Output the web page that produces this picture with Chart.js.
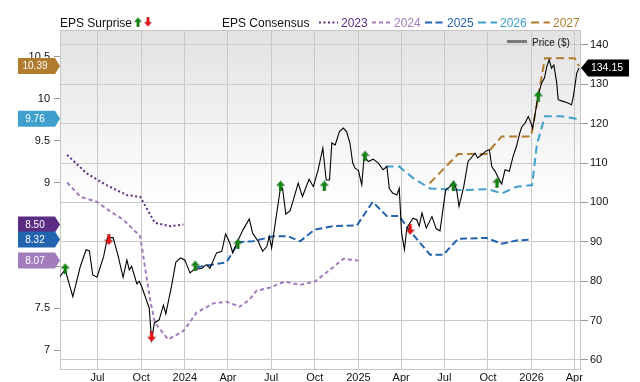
<!DOCTYPE html>
<html><head><meta charset="utf-8">
<script src="https://cdn.jsdelivr.net/npm/chart.js@4.4.1/dist/chart.umd.min.js"></script>
<style>html,body{margin:0;padding:0;background:#fff;}#wrap{width:640px;height:382px;position:relative;}</style>
</head><body><div id="wrap"><canvas id="c" width="640" height="382"></canvas></div>
<script>
// ---------- data ----------
const xRange = ['2023-04-13', '2026-04-13'];
const xTickDates = ['2023-07-01','2023-10-01','2024-01-01','2024-04-01','2024-07-01','2024-10-01','2025-01-01','2025-04-01','2025-07-01','2025-10-01','2026-01-01','2026-04-01'];
const xTickLabels = ['Jul','Oct','2024','Apr','Jul','Oct','2025','Apr','Jul','Oct','2026','Apr'];

const priceDates = ['2023-04-13','2023-04-24','2023-05-10','2023-05-26','2023-06-07','2023-06-14','2023-06-21','2023-06-30','2023-07-14','2023-07-22','2023-08-03','2023-08-13','2023-08-24','2023-09-01','2023-09-06','2023-09-11','2023-09-22','2023-09-27','2023-10-02','2023-10-13','2023-10-18','2023-10-23','2023-10-29','2023-11-08','2023-11-17','2023-11-22','2023-12-04','2023-12-13','2023-12-23','2024-01-01','2024-01-05','2024-01-12','2024-01-20','2024-02-06','2024-02-16','2024-02-23','2024-03-08','2024-03-19','2024-03-27','2024-04-05','2024-04-11','2024-04-21','2024-05-03','2024-05-16','2024-05-23','2024-06-04','2024-06-13','2024-06-22','2024-06-27','2024-07-02','2024-07-21','2024-07-25','2024-08-01','2024-08-10','2024-08-17','2024-08-27','2024-09-05','2024-09-19','2024-09-28','2024-10-08','2024-10-18','2024-10-25','2024-11-01','2024-11-06','2024-11-13','2024-11-22','2024-11-30','2024-12-07','2024-12-14','2024-12-20','2024-12-25','2025-01-01','2025-01-08','2025-01-13','2025-01-22','2025-02-01','2025-02-12','2025-02-22','2025-03-02','2025-03-07','2025-03-14','2025-03-23','2025-03-28','2025-04-02','2025-04-08','2025-04-13','2025-04-26','2025-05-04','2025-05-09','2025-05-15','2025-05-24','2025-06-05','2025-06-14','2025-06-22','2025-06-29','2025-07-04','2025-07-13','2025-07-21','2025-07-27','2025-08-01','2025-08-11','2025-08-20','2025-09-04','2025-09-09','2025-09-18','2025-09-27','2025-10-04','2025-10-09','2025-10-16','2025-10-23','2025-10-30','2025-11-06','2025-11-15','2025-11-23','2025-11-30','2025-12-07','2025-12-11','2025-12-18','2025-12-25','2025-12-31','2026-01-03','2026-01-08','2026-01-15','2026-01-22','2026-01-28','2026-02-02','2026-02-07','2026-02-12','2026-02-17','2026-02-23','2026-02-26','2026-03-05','2026-03-16','2026-03-26','2026-03-30','2026-04-06','2026-04-11'];
const priceValues = [81.2,82.9,76.1,83.8,88.0,87.7,81.6,81.0,86.3,91.0,91.1,86.7,81.0,85.4,82.9,83.8,79.3,80.0,78.7,74.9,73.2,65.2,69.4,70.2,73.9,71.7,78.7,84.8,85.9,85.4,84.2,82.1,82.9,83.3,84.2,83.3,87.2,87.6,92.0,89.7,87.2,90.1,93.1,95.8,92.2,90.1,87.6,88.8,91.4,88.4,104.0,103.6,97.0,97.9,100.7,104.9,101.5,105.9,104.0,108.3,113.8,105.7,105.7,115.1,114.6,118.0,118.9,118.0,115.1,110.0,108.7,108.1,104.5,111.7,110.4,111.0,110.0,108.3,109.1,103.6,102.4,101.9,103.6,92.2,88.0,93.5,96.0,95.6,94.0,97.3,93.5,96.4,93.3,92.8,99.0,103.2,104.0,105.3,103.2,99.0,104.0,110.4,112.5,111.3,112.1,113.1,113.4,109.1,107.9,106.2,104.7,108.3,107.9,111.7,114.2,117.6,119.1,120.1,121.8,120.1,118.9,122.2,127.3,130.3,131.6,134.5,136.2,134.1,134.9,130.3,126.1,125.8,125.4,124.8,126.9,132.8,134.15];

const eps2023Dates = ['2023-04-28','2023-06-08','2023-07-20','2023-09-01','2023-09-29','2023-10-30','2023-12-01','2023-12-29'];
const eps2023Values = [9.33,9.11,8.97,8.85,8.83,8.52,8.48,8.50];

const eps2024Dates = ['2023-04-28','2023-05-26','2023-06-30','2023-07-27','2023-08-24','2023-09-29','2023-10-20','2023-10-30','2023-11-27','2023-12-29','2024-01-26','2024-03-01','2024-03-29','2024-04-26','2024-05-17','2024-05-31','2024-06-29','2024-07-30','2024-08-31','2024-10-01','2024-11-02','2024-11-30','2025-01-01'];
const eps2024Values = [9.00,8.83,8.77,8.66,8.56,8.36,7.60,7.33,7.13,7.23,7.45,7.56,7.58,7.52,7.61,7.71,7.75,7.82,7.78,7.82,7.96,8.09,8.07];

const eps2025Dates = ['2024-01-26','2024-03-29','2024-04-23','2024-05-24','2024-07-06','2024-08-06','2024-08-31','2024-10-01','2024-11-09','2024-12-29','2025-01-31','2025-03-02','2025-03-28','2025-04-20','2025-06-01','2025-06-29','2025-07-30','2025-09-28','2025-10-30','2025-11-30','2025-12-29'];
const eps2025Values = [7.99,8.05,8.29,8.30,8.36,8.36,8.30,8.44,8.48,8.49,8.77,8.60,8.60,8.42,8.14,8.14,8.33,8.34,8.27,8.31,8.32];

const eps2026Dates = ['2025-02-27','2025-03-28','2025-04-27','2025-06-01','2025-07-30','2025-10-02','2025-10-30','2025-11-30','2026-01-02','2026-01-12','2026-01-29','2026-03-05','2026-04-06'];
const eps2026Values = [9.19,9.19,9.05,8.93,8.91,8.92,8.87,8.95,8.97,9.45,9.79,9.79,9.76];

const eps2027Dates = ['2025-05-31','2025-07-30','2025-09-28','2025-10-30','2025-12-31','2026-01-29','2026-04-02','2026-04-11'];
const eps2027Values = [8.99,9.34,9.34,9.55,9.55,10.48,10.48,10.39];

const beatDates = ['2023-04-24','2024-01-23','2024-04-22','2024-07-21','2024-10-21','2025-01-15','2025-07-20','2025-10-20','2026-01-15'];
const beatValues = [83.2,83.9,89.5,104.2,104.2,111.8,104.2,105.0,127.0];
const missDates = ['2023-07-25','2023-10-23','2025-04-20'];
const missValues = [90.5,65.9,93.1];

const seriesNames = ['2023','2024','2025','2026','2027'];

// ---------- helpers ----------
const BASE = Date.UTC(2023, 6, 1);
const toDay = s => (Date.UTC(+s.slice(0,4), +s.slice(5,7)-1, +s.slice(8,10)) - BASE) / 86400000;
const pts = (d, v) => d.map((s, i) => ({x: toDay(s), y: v[i]}));

const COL = {'2023':'#5b2c83','2024':'#a27cbd','2025':'#2264ae','2026':'#40a0cd','2027':'#b07b2c'};
const DASH = {'2023':[2,2.5],'2024':[4,3],'2025':[7,3.5],'2026':[8,4.5],'2027':[8,4.5]};
const epsData = {'2023':[eps2023Dates,eps2023Values],'2024':[eps2024Dates,eps2024Values],'2025':[eps2025Dates,eps2025Values],'2026':[eps2026Dates,eps2026Values],'2027':[eps2027Dates,eps2027Values]};

function makeArrow(color, up) {
  const c = document.createElement('canvas'); c.width = 9; c.height = 11;
  const g = c.getContext('2d');
  g.fillStyle = color; g.strokeStyle = 'rgba(0,0,0,0.35)'; g.lineWidth = 0.6;
  g.beginPath();
  if (up) { g.moveTo(4.5,0.5); g.lineTo(8.7,5.2); g.lineTo(6,5.2); g.lineTo(6,10.7); g.lineTo(3,10.7); g.lineTo(3,5.2); g.lineTo(0.3,5.2); }
  else { g.moveTo(4.5,10.5); g.lineTo(8.7,5.8); g.lineTo(6,5.8); g.lineTo(6,0.3); g.lineTo(3,0.3); g.lineTo(3,5.8); g.lineTo(0.3,5.8); }
  g.closePath(); g.fill(); g.stroke();
  return c;
}
const upArrow = makeArrow('#0e8a0e', true);
const downArrow = makeArrow('#ee1111', false);

const FONT = '"Liberation Sans", Arial, Helvetica, sans-serif';

const decor = {
  id: 'decor',
  beforeDraw(chart) {
    const {ctx, chartArea: a} = chart;
    const g = ctx.createLinearGradient(0, a.top, 0, a.bottom);
    g.addColorStop(0, '#e2e2e2'); g.addColorStop(0.52, '#ffffff'); g.addColorStop(1, '#ffffff');
    ctx.save(); ctx.fillStyle = g; ctx.fillRect(a.left, a.top, a.right - a.left, a.bottom - a.top); ctx.restore();
  },
  beforeDatasetsDraw(chart) {
    const {ctx, chartArea: a} = chart;
    ctx.save(); ctx.strokeStyle = '#c6c6c6'; ctx.lineWidth = 1;
    ctx.strokeRect(Math.round(a.left) + 0.5, Math.round(a.top) + 0.5, Math.round(a.right - a.left) - 1 + 1, Math.round(a.bottom - a.top));
    ctx.restore();
  },
  afterDraw(chart) {
    const {ctx, chartArea: a} = chart;
    const yL = chart.scales.yL, yR = chart.scales.yR;
    ctx.save();
    // top legend
    ctx.font = '12px ' + FONT; ctx.fillStyle = '#111'; ctx.textBaseline = 'alphabetic'; ctx.textAlign = 'left';
    ctx.fillText('EPS Surprise', 60, 27);
    ctx.drawImage(upArrow, 134, 17, 8, 10);
    ctx.drawImage(downArrow, 144, 17, 8, 10);
    ctx.fillText('EPS Consensus', 222, 27);
    const lx = {'2023':319,'2024':372,'2025':425,'2026':478,'2027':531};
    seriesNames.forEach(n => {
      ctx.beginPath(); ctx.setLineDash(DASH[n]); ctx.lineWidth = 2; ctx.strokeStyle = COL[n];
      ctx.moveTo(lx[n], 22.5); ctx.lineTo(lx[n] + 19, 22.5); ctx.stroke();
      ctx.setLineDash([]);
      ctx.fillStyle = COL[n]; ctx.fillText(n, lx[n] + 22, 27);
    });
    // price legend inside plot
    ctx.beginPath(); ctx.strokeStyle = '#7a7a7a'; ctx.lineWidth = 3;
    ctx.moveTo(507, 41.5); ctx.lineTo(527, 41.5); ctx.stroke();
    ctx.font = '10px ' + FONT; ctx.fillStyle = '#111';
    ctx.fillText('Price ($)', 532, 45.5);
    // left flags (last consensus values)
    const order = ['2027','2026','2023','2025','2024'];
    ctx.font = '10px ' + FONT; ctx.textAlign = 'center'; ctx.textBaseline = 'middle';
    order.forEach(n => {
      const vals = epsData[n][1]; const v = vals[vals.length - 1];
      const y = yL.getPixelForValue(v);
      ctx.beginPath(); ctx.fillStyle = COL[n];
      ctx.moveTo(18, y - 8); ctx.lineTo(55, y - 8); ctx.lineTo(60, y); ctx.lineTo(55, y + 8); ctx.lineTo(18, y + 8); ctx.closePath(); ctx.fill();
      ctx.fillStyle = '#fff'; ctx.fillText(v.toFixed(2), 35, y + 0.5);
    });
    // right price flag
    const pv = priceValues[priceValues.length - 1];
    const py = yR.getPixelForValue(pv);
    ctx.beginPath(); ctx.fillStyle = '#000';
    ctx.moveTo(581, py); ctx.lineTo(588, py - 8.5); ctx.lineTo(629, py - 8.5); ctx.lineTo(629, py + 8.5); ctx.lineTo(588, py + 8.5); ctx.closePath(); ctx.fill();
    ctx.font = '10.5px ' + FONT; ctx.fillStyle = '#fff';
    ctx.fillText(pv.toFixed(2), 607, py + 0.5);
    ctx.restore();
  }
};

const epsSets = ['2027','2026','2025','2024','2023'].map(n => ({
  label: n, data: pts(epsData[n][0], epsData[n][1]), yAxisID: 'yL',
  borderColor: COL[n], borderWidth: 2, borderDash: DASH[n], pointRadius: 0, fill: false, tension: 0
}));

new Chart(document.getElementById('c'), {
  type: 'line',
  data: {
    datasets: [
      {label: 'Beat', data: pts(beatDates, beatValues), yAxisID: 'yR', showLine: false, pointStyle: upArrow, pointRadius: 4},
      {label: 'Miss', data: pts(missDates, missValues), yAxisID: 'yR', showLine: false, pointStyle: downArrow, pointRadius: 4},
      {label: 'Price ($)', data: pts(priceDates, priceValues), yAxisID: 'yR', borderColor: '#000', borderWidth: 1.1, pointRadius: 0, tension: 0},
      ...epsSets
    ]
  },
  options: {
    responsive: false, animation: false, events: [],
    layout: {padding: {top: 30, left: 0, right: 0, bottom: 0}},
    plugins: {legend: {display: false}, tooltip: {enabled: false}},
    scales: {
      x: {
        type: 'linear', min: toDay(xRange[0]), max: toDay(xRange[1]),
        afterBuildTicks: s => { s.ticks = xTickDates.map(d => ({value: toDay(d)})); },
        afterFit: s => { s.height = 13; },
        ticks: {autoSkip: false, maxRotation: 0, padding: 2, color: '#111', font: {family: FONT, size: 11},
          callback: v => { const i = xTickDates.findIndex(d => toDay(d) === v); return i >= 0 ? xTickLabels[i] : ''; }},
        grid: {color: '#c9c9c9', drawTicks: false},
        border: {display: false}
      },
      yL: {
        position: 'left', min: 6.778, max: 10.818,
        afterFit: s => { s.width = 60; },
        ticks: {stepSize: 0.5, includeBounds: false, padding: 4, color: '#111', font: {family: FONT, size: 11},
          callback: v => (v === 8 || v === 8.5) ? '' : String(v)},
        grid: {drawOnChartArea: false, drawTicks: true, tickLength: 6, tickColor: '#999'},
        border: {display: false}
      },
      yR: {
        position: 'right', min: 57.7, max: 143.8,
        afterFit: s => { s.width = 60; },
        ticks: {stepSize: 10, includeBounds: false, padding: 2, color: '#111', font: {family: FONT, size: 11},
          callback: v => String(v)},
        grid: {color: '#c9c9c9', drawTicks: true, tickLength: 8, tickColor: '#999'},
        border: {display: false}
      }
    }
  },
  plugins: [decor]
});
</script></body></html>
